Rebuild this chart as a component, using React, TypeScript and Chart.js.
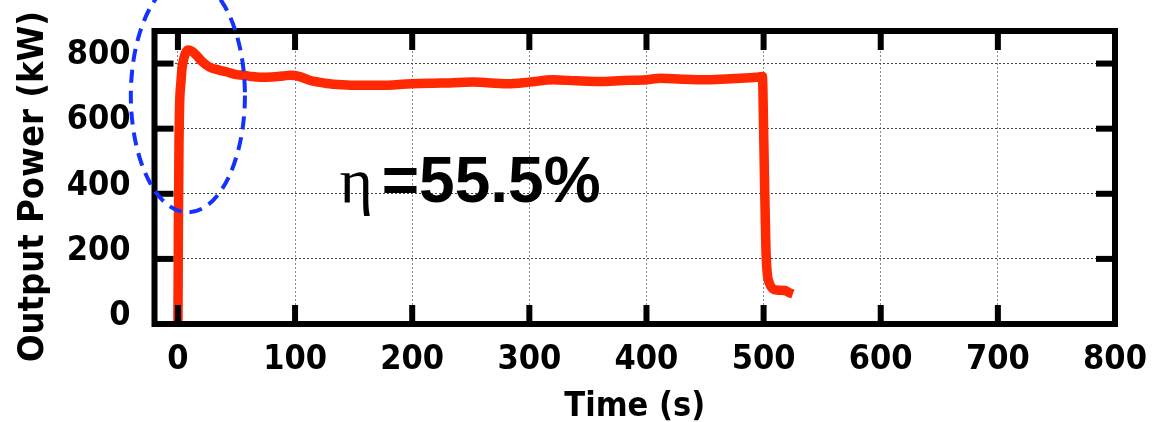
import React, { useEffect, useRef } from 'react';
import { Chart, registerables } from 'chart.js';

Chart.register(...registerables);

// ---- data ----
const timeS = [
  -3, 0, 0.4, 0.9, 1.5, 2.5, 3.5, 5, 7, 9, 12, 16, 20, 27, 35, 42, 50, 56, 63, 70,
  80, 90, 96, 104, 113, 120, 127, 140, 153, 172, 200, 225, 252, 281, 300, 320,
  340, 360, 380, 400, 412, 430, 452, 475, 494, 499, 500, 501, 502, 503, 505, 508,
  512, 518, 522, 525,
];
const powerKW = [
  0, 0, 300, 550, 680, 740, 785, 815, 836, 842, 838, 825, 808, 789, 780, 774, 766, 764, 760, 758,
  759, 762, 764, 760, 748, 743, 739, 735, 733, 733, 738, 740, 743, 738, 743, 750,
  747, 745, 748, 750, 755, 752, 750, 754, 758, 760, 600, 400, 230, 160, 125, 108,
  104, 103, 96, 92,
];
const xTickStep = 100;
const yTickStep = 200;
const xLabel = 'Time (s)';
const yLabel = 'Output Power (kW)';
const etaSymbol = 'η';
const etaValue = '=55.5%';

// ---- annotation placement (data units) ----
const ellipseAnno = { cx: 8.5, cy: 702, rx: 48.7, ry: 359 };
const etaAnno = { symX: 138, valX: 174, y: 374 };

const FONT = "'DejaVu Sans Condensed', 'DejaVu Sans', sans-serif";

const framePlugin = {
  id: 'frameTicks',
  afterDatasetsDraw(chart: any) {
    const { ctx, chartArea: a, scales } = chart;
    const x = scales.x;
    const y = scales.y;
    ctx.save();
    ctx.strokeStyle = '#000';
    ctx.lineWidth = 6;
    ctx.strokeRect(a.left, a.top, a.right - a.left, a.bottom - a.top);
    ctx.fillStyle = '#000';
    const L = 19;
    const W = 6;
    x.ticks.forEach((t: any) => {
      if (t.value <= x.min || t.value >= x.max) return;
      const px = x.getPixelForValue(t.value);
      ctx.fillRect(px - W / 2, a.bottom - L, W, L);
      ctx.fillRect(px - W / 2, a.top, W, L);
    });
    y.ticks.forEach((t: any) => {
      if (t.value <= y.min || t.value >= y.max) return;
      const py = y.getPixelForValue(t.value);
      ctx.fillRect(a.left, py - W / 2, L, W);
      ctx.fillRect(a.right - L, py - W / 2, L, W);
    });
    ctx.restore();
  },
  afterDraw(chart: any) {
    const { ctx, chartArea: a, scales } = chart;
    const x = scales.x;
    const y = scales.y;
    ctx.save();
    // dashed ellipse
    const cx = x.getPixelForValue(ellipseAnno.cx);
    const cy = y.getPixelForValue(ellipseAnno.cy);
    const rx = x.getPixelForValue(ellipseAnno.cx + ellipseAnno.rx) - cx;
    const ry = cy - y.getPixelForValue(ellipseAnno.cy + ellipseAnno.ry);
    ctx.beginPath();
    ctx.ellipse(cx, cy, rx, ry, 0, 0, Math.PI * 2);
    ctx.setLineDash([13, 8]);
    ctx.lineWidth = 4;
    ctx.strokeStyle = 'rgb(20,50,255)';
    ctx.stroke();
    ctx.setLineDash([]);

    // efficiency text
    ctx.fillStyle = '#000';
    ctx.textBaseline = 'alphabetic';
    ctx.textAlign = 'left';
    const by = y.getPixelForValue(etaAnno.y);
    ctx.font = "64px 'Liberation Serif', 'DejaVu Serif', serif";
    ctx.fillText(etaSymbol, x.getPixelForValue(etaAnno.symX), by);
    ctx.font = "bold 64px 'Liberation Sans', Arial, sans-serif";
    ctx.fillText(etaValue, x.getPixelForValue(etaAnno.valX), by);

    // y axis title
    ctx.font = `bold 36px ${FONT}`;
    ctx.textAlign = 'center';
    ctx.translate(43, (a.top + a.bottom) / 2 + 9);
    ctx.rotate(-Math.PI / 2);
    ctx.fillText(yLabel, 0, 0);
    ctx.restore();
  },
};

export default function App() {
  const ref = useRef<HTMLCanvasElement | null>(null);
  useEffect(() => {
    if (!ref.current) return;
    const chart = new Chart(ref.current, {
      type: 'line',
      data: {
        datasets: [
          {
            data: timeS.map((t, i) => ({ x: t, y: powerKW[i] })),
            borderColor: 'rgb(255,40,0)',
            borderWidth: 9.5,
            pointRadius: 0,
            cubicInterpolationMode: 'monotone',
            fill: false,
            borderJoinStyle: 'round',
            borderCapStyle: 'butt',
          },
        ],
      },
      options: {
        animation: false,
        responsive: false,
        maintainAspectRatio: false,
        layout: { padding: { top: 31, right: 45, left: 0, bottom: 0 } },
        plugins: { legend: { display: false }, tooltip: { enabled: false } },
        scales: {
          x: {
            type: 'linear',
            min: -20,
            max: 800,
            ticks: {
              stepSize: xTickStep,
              includeBounds: false,
              maxRotation: 0,
              color: '#000',
              padding: 16,
              font: { family: FONT, size: 34, weight: 'bold' },
            },
            grid: { color: '#8a8a8a', lineWidth: 1, drawTicks: false },
            border: { display: false, dash: [2, 2] },
            title: {
              display: true,
              text: xLabel,
              color: '#000',
              font: { family: FONT, size: 34, weight: 'bold', lineHeight: 0.9 },
              padding: { top: 0, bottom: 0 },
            },
            afterFit(s: any) {
              s.height = 98;
              s.paddingLeft = 0;
              s.paddingRight = 0;
            },
          },
          y: {
            type: 'linear',
            min: 0,
            max: 900,
            ticks: {
              stepSize: yTickStep,
              includeBounds: false,
              color: '#000',
              padding: 24,
              labelOffset: -8,
              font: { family: FONT, size: 34, weight: 'bold' },
            },
            grid: { color: '#444', lineWidth: 1, drawTicks: false },
            border: { display: false, dash: [2, 2] },
            afterFit(s: any) {
              s.width = 154.5;
              s.paddingTop = 0;
              s.paddingBottom = 0;
            },
          },
        },
      },
      plugins: [framePlugin],
    } as any);
    return () => chart.destroy();
  }, []);
  return (
    <div style={{ position: 'fixed', left: 0, top: 0, width: 1160, height: 422, background: '#fff' }}>
      <canvas ref={ref} width={1160} height={422} style={{ width: 1160, height: 422 }} />
    </div>
  );
}
